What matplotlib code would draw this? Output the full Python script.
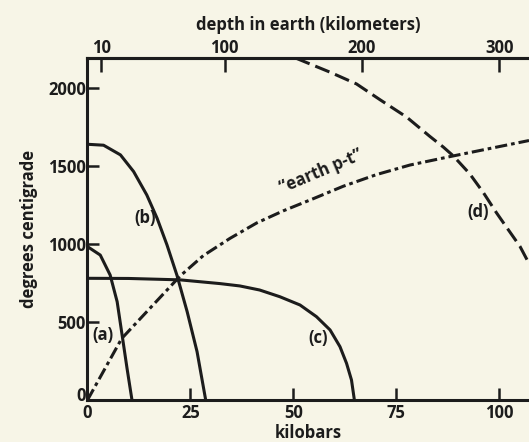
import matplotlib.pyplot as plt
from matplotlib.transforms import ScaledTranslation

# curve readings (kilobars, degrees C)
a_p = [0, 3.1, 5.5, 7.2, 8.4, 9.6, 10.8]
a_t = [983, 929, 801, 630, 417, 203, 0]

b_p = [0, 3.9, 8.0, 11.2, 14.4, 16.9, 19.3, 21.7, 24.2, 26.6, 28.7]
b_t = [1639, 1633, 1571, 1464, 1314, 1165, 994, 801, 566, 310, 0]

c_p = [0, 10, 22.5, 32.2, 37.0, 41.8, 46.7, 51.6, 55.6, 58.9, 61.3, 62.9, 64.1, 64.8]
c_t = [780, 779, 770, 746, 731, 705, 662, 609, 534, 449, 342, 235, 128, 0]

d_p = [50.5, 58.9, 65.3, 71.0, 77.5, 83.1, 86.4, 88.8, 92.8, 96.1, 99.3, 101.7, 105.0, 107.2]
d_t = [2192, 2101, 2026, 1925, 1813, 1690, 1621, 1565, 1450, 1330, 1200, 1109, 985, 875]

earth_p = [0, 8.3, 22.5, 28.1, 34.6, 41.1, 47.5, 54.8, 62.1, 70.2, 78.3, 88.0, 107.2]
earth_t = [0, 394, 795, 925, 1036, 1135, 1212, 1290, 1370, 1445, 1506, 1560, 1663]

kbar_ticks = [0, 25, 50, 75, 100]
temp_ticks = [0, 500, 1000, 1500, 2000]
km_ticks = [10, 100, 200, 300]

bg = '#f7f5e7'
ink = '#1c1c1c'
plt.rcParams['font.family'] = ['Open Sans', 'DejaVu Sans']
plt.rcParams['font.weight'] = 'bold'
plt.rcParams['axes.labelweight'] = 'bold'
plt.rcParams['font.size'] = 12

fig = plt.figure(figsize=(5.29, 4.42), dpi=100, facecolor=bg)
ax = fig.add_axes([0.1654, 0.095, 0.8346, 0.7738])
ax.set_facecolor(bg)

lw = 2.2
for xs, ys in [(a_p, a_t), (b_p, b_t), (c_p, c_t)]:
    ax.plot(xs, ys, color=ink, lw=lw, solid_capstyle='butt', solid_joinstyle='round')
ax.plot(d_p, d_t, color=ink, lw=lw, linestyle=(0, (5, 2)), dash_joinstyle='round')
ax.plot(earth_p, earth_t, color=ink, lw=lw, linestyle=(0, (4, 1.3, 1.2, 1.3)),
        dash_joinstyle='round')

ax.text(3.8, 416, '(a)', ha='center', va='center', color=ink)
ax.text(14.0, 1164, '(b)', ha='center', va='center', color=ink)
ax.text(56.0, 395, '(c)', ha='center', va='center', color=ink)
ax.text(94.9, 1205, '(d)', ha='center', va='center', color=ink)
ax.text(56.8, 1465, '\u201cearth p-t\u201d', ha='center', va='center',
        rotation=23, color=ink)

ax.set_xlim(0, 107.2)
ax.set_ylim(0, 2192)
ax.set_xticks(kbar_ticks)
ax.set_yticks(temp_ticks)
ax.spines['right'].set_visible(False)
for s in ['left', 'bottom', 'top']:
    ax.spines[s].set_linewidth(lw)
    ax.spines[s].set_color(ink)
ax.tick_params(direction='in', length=8.5, width=1.8, color=ink, labelcolor=ink)
ax.tick_params(axis='x', pad=3)
ax.tick_params(axis='y', pad=1)
ax.set_xlabel('kilobars', color=ink, labelpad=1)
ax.set_ylabel('degrees centigrade', color=ink, labelpad=7)

# the "0" on the temperature axis sits a little high, clear of the x "0"
lab0 = ax.get_yticklabels()[0]
lab0.set_transform(lab0.get_transform() + ScaledTranslation(0, 4 / 72, fig.dpi_scale_trans))

top = ax.secondary_xaxis('top', functions=(lambda x: 3 * x, lambda x: x / 3))
top.set_xticks(km_ticks)
top.spines['top'].set_linewidth(lw)
top.spines['top'].set_color(ink)
top.tick_params(direction='in', length=10, width=1.8, color=ink, labelcolor=ink, pad=1)
top.set_xlabel('depth in earth (kilometers)', color=ink, labelpad=6)

fig.savefig('out.png', dpi=100, facecolor=bg)
